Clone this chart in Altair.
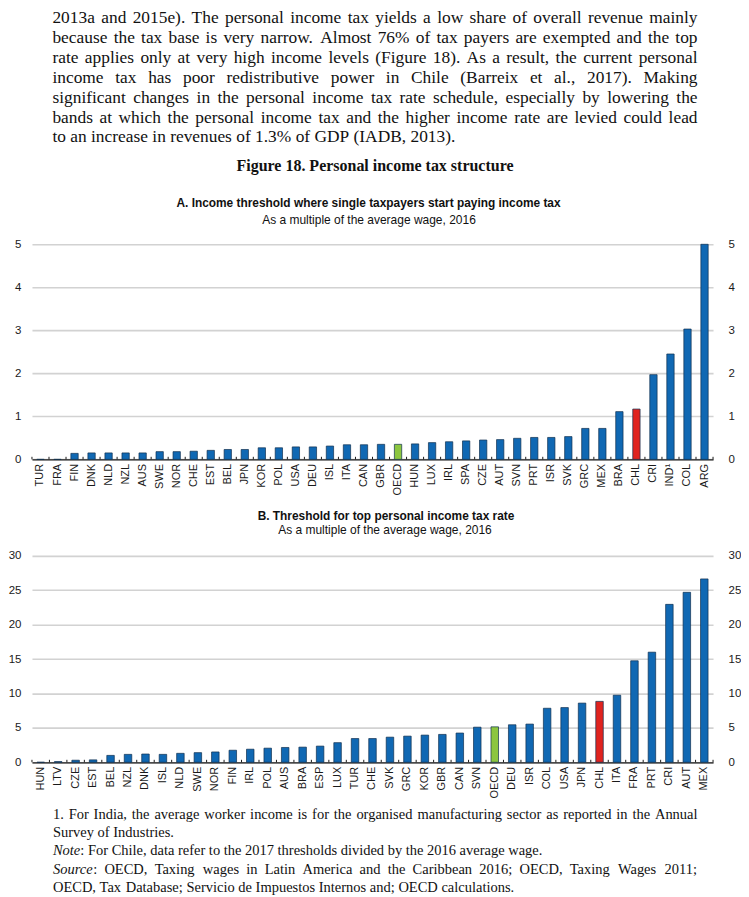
import altair as alt
import pandas as pd

# ---------------- text content ----------------
paragraph = [
    "2013a and 2015e). The personal income tax yields a low share of overall revenue mainly",
    "because the tax base is very narrow. Almost 76% of tax payers are exempted and the top",
    "rate applies only at very high income levels (Figure 18). As a result, the current personal",
    "income tax has poor redistributive power in Chile (Barreix et al., 2017). Making",
    "significant changes in the personal income tax rate schedule, especially by lowering the",
    "bands at which the personal income tax and the higher income rate are levied could lead",
    "to an increase in revenues of 1.3% of GDP (IADB, 2013).",
]
fig_title = "Figure 18. Personal income tax structure"
a_title = "A. Income threshold where single taxpayers start paying income tax"
a_sub = "As a multiple of the average wage, 2016"
b_title = "B. Threshold for top personal income tax rate"
b_sub = "As a multiple of the average wage, 2016"
foot_line1 = "1. For India, the average worker income is for the organised manufacturing sector as reported in the Annual"
foot_line2 = "Survey of Industries."
note_label = "Note"
note_text = ": For Chile, data refer to the 2017 thresholds divided by the 2016 average wage."
source_label = "Source"
source_text = ": OECD, Taxing wages in Latin America and the Caribbean 2016; OECD, Taxing Wages 2011;"
source_cont = "OECD, Tax Database; Servicio de Impuestos Internos and; OECD calculations."

# ---------------- data ----------------
a_countries = ["TUR", "FRA", "FIN", "DNK", "NLD", "NZL", "AUS", "SWE", "NOR", "CHE",
               "EST", "BEL", "JPN", "KOR", "POL", "USA", "DEU", "ISL", "ITA", "CAN",
               "GBR", "OECD", "HUN", "LUX", "IRL", "SPA", "CZE", "AUT", "SVN", "PRT",
               "ISR", "SVK", "GRC", "MEX", "BRA", "CHL", "CRI", "IND¹", "COL", "ARG"]
a_values = [0.0, 0.0, 0.14, 0.15, 0.15, 0.15, 0.15, 0.18, 0.18, 0.19,
            0.21, 0.23, 0.23, 0.27, 0.27, 0.29, 0.29, 0.31, 0.34, 0.34,
            0.35, 0.35, 0.36, 0.39, 0.41, 0.43, 0.45, 0.46, 0.49, 0.51,
            0.51, 0.53, 0.72, 0.72, 1.11, 1.17, 1.97, 2.45, 3.03, 5.0]
a_ticks = [0, 1, 2, 3, 4, 5]

b_countries = ["HUN", "LTV", "CZE", "EST", "BEL", "NZL", "DNK", "ISL", "NLD", "SWE",
               "NOR", "FIN", "IRL", "POL", "AUS", "BRA", "ESP", "LUX", "TUR", "CHE",
               "SVK", "GRC", "KOR", "GBR", "CAN", "SVN", "OECD", "DEU", "ISR", "COL",
               "USA", "JPN", "CHL", "ITA", "FRA", "PRT", "CRI", "AUT", "MEX"]
b_values = [0.0, 0.1, 0.3, 0.35, 1.0, 1.15, 1.2, 1.15, 1.3, 1.4,
            1.5, 1.75, 1.9, 2.05, 2.15, 2.2, 2.35, 2.85, 3.45, 3.45,
            3.65, 3.8, 3.95, 4.05, 4.25, 5.1, 5.15, 5.45, 5.55, 7.85,
            7.95, 8.6, 8.85, 9.75, 14.75, 16.0, 22.95, 24.7, 26.65]
b_ticks = [0, 5, 10, 15, 20, 25, 30]

# ---------------- style ----------------
SERIF = "Liberation Serif"
SANS = "Liberation Sans"
BLUE = "#1068b3"
RED = "#e0231f"
GREEN = "#8cc63f"
DARK = "#1a1a1a"
PLOT_W = 682
FULL_W = 700

# Times (Liberation Serif) advance widths, in em, used to justify the prose
TIMES = {' ': .25, '%': .833, '(': .333, ')': .333, ',': .25, '-': .333, '.': .25,
         ':': .278, ';': .278,
         'A': .722, 'B': .667, 'C': .667, 'D': .722, 'E': .611, 'F': .556, 'G': .722,
         'H': .722, 'I': .333, 'J': .389, 'K': .722, 'L': .611, 'M': .889, 'N': .722,
         'O': .722, 'P': .556, 'Q': .722, 'R': .667, 'S': .556, 'T': .611, 'U': .722,
         'V': .722, 'W': .944, 'X': .722, 'Y': .722, 'Z': .611,
         'a': .444, 'b': .5, 'c': .444, 'd': .5, 'e': .444, 'f': .333, 'g': .5, 'h': .5,
         'i': .278, 'j': .278, 'k': .5, 'l': .278, 'm': .778, 'n': .5, 'o': .5, 'p': .5,
         'q': .5, 'r': .333, 's': .389, 't': .278, 'u': .5, 'v': .5, 'w': .722, 'x': .5,
         'y': .5, 'z': .444}
ITALIC = {'N': .667, 'S': .5, 'o': .5, 't': .278, 'e': .444, 'u': .5, 'r': .389, 'c': .444}


def tw(s, fs, table=TIMES):
    return sum(table.get(ch, .5) for ch in s) * fs


def justify(line, fs, x0, x1, full, lead_w=0.0):
    words = line.split(" ")
    widths = [tw(w, fs) for w in words]
    if lead_w:
        widths[0] = lead_w
    gaps = len(words) - 1
    if full and gaps > 0:
        gap = (x1 - x0 - sum(widths)) / gaps
    else:
        gap = .25 * fs
    xs, x = [], x0
    for wdt in widths:
        xs.append(x)
        x += wdt + gap
    return words, xs


def text_layer(xs, ys, texts, font, size, weight="normal", style="normal", align="left"):
    df = pd.DataFrame({"x": xs, "y": ys, "t": texts})
    return alt.Chart(df).mark_text(
        font=font, fontSize=size, fontWeight=weight, fontStyle=style,
        align=align, baseline="middle", color="#111111"
    ).encode(
        x=alt.X("x:Q", scale=None),
        y=alt.Y("y:Q", scale=None),
        text="t:N",
    )


def panel(countries, values, ymax, yticks, height, tick_h):
    groups = ["OECD" if c == "OECD" else ("CHL" if c == "CHL" else "other") for c in countries]
    df = pd.DataFrame({"country": countries, "value": values, "group": groups})
    bar_scale = alt.Scale(domain=countries, paddingInner=0.57, paddingOuter=0.285)
    edge_scale = alt.Scale(domain=countries, paddingInner=0, paddingOuter=0)
    ysc = alt.Scale(domain=[0, ymax], nice=False)
    xaxis = alt.Axis(title=None, labelAngle=270, labelFont=SANS, labelFontSize=11,
                     labelColor=DARK, ticks=False, tickSize=0, domainColor=DARK,
                     domainWidth=1.3, labelPadding=4, grid=False)
    yleft = alt.Axis(orient="left", values=yticks, title=None, grid=True,
                     gridColor="#d2d2d2", gridWidth=1.6, domain=False, ticks=False,
                     tickSize=0, labelPadding=11, labelFont=SANS, labelFontSize=11.5,
                     labelColor=DARK)
    yright = alt.Axis(orient="right", values=yticks, title=None, grid=False, domain=False,
                      ticks=False, tickSize=0, labelPadding=15, labelFont=SANS,
                      labelFontSize=11.5, labelColor=DARK)
    base = alt.Chart(df)
    bars = base.mark_bar(stroke="#10304f", strokeWidth=0.7).encode(
        x=alt.X("country:N", sort=countries, scale=bar_scale, axis=xaxis),
        y=alt.Y("value:Q", scale=ysc, axis=yleft),
        color=alt.Color("group:N", scale=alt.Scale(domain=["other", "CHL", "OECD"],
                                                   range=[BLUE, RED, GREEN]), legend=None),
    )
    ghost = base.mark_bar(opacity=0).encode(
        x=alt.X("country:N", sort=countries, scale=bar_scale, axis=None),
        y=alt.Y("value:Q", scale=ysc, axis=yright),
    )
    edges = base.mark_rule(color=DARK, strokeWidth=1).encode(
        x=alt.X("country:N", sort=countries, scale=edge_scale, axis=None, bandPosition=0),
        y=alt.YDatum(0, axis=None),
        y2=alt.Y2Datum(tick_h),
    )
    last = base.transform_filter(alt.datum.country == countries[-1]).mark_rule(
        color=DARK, strokeWidth=1).encode(
        x=alt.X("country:N", sort=countries, scale=edge_scale, axis=None, bandPosition=1),
        y=alt.YDatum(0, axis=None),
        y2=alt.Y2Datum(tick_h),
    )
    return alt.layer(bars, ghost, edges, last).resolve_scale(
        x="independent", y="shared"
    ).resolve_axis(x="independent", y="independent").properties(width=PLOT_W, height=height)


# ---------------- header (prose + figure title + panel A title) ----------------
OX = 31.5          # page x of the plot's left edge
OY = 8.0           # page y of the header's top
P_FS = 17.4
px, py, pt = [], [], []
for i, line in enumerate(paragraph):
    words, xs = justify(line, P_FS, 52 - OX, 698 - OX, i < len(paragraph) - 1)
    y = 8.6 + 19.9 * i
    px += xs
    py += [y] * len(words)
    pt += words

T_BOLD = 11.9
T_REG = 12.0
header = alt.layer(
    text_layer(px, py, pt, SERIF, P_FS),
    text_layer([375 - OX], [165 - OY], [fig_title], SERIF, 16, weight="bold", align="center"),
    text_layer([368.5 - OX], [201.7 - OY], [a_title], SANS, T_BOLD, weight="bold", align="center"),
    text_layer([369 - OX], [218.3 - OY], [a_sub], SANS, T_REG, align="center"),
).properties(width=FULL_W, height=242.3 - OY)

panel_a = panel(a_countries, a_values, 5, a_ticks, 215.4, 0.06)

A_BOTTOM = 457.7
mid = alt.layer(
    text_layer([386 - OX], [513.3 - A_BOTTOM], [b_title], SANS, T_BOLD, weight="bold", align="center"),
    text_layer([385 - OX], [528.3 - A_BOTTOM], [b_sub], SANS, T_REG, align="center"),
).properties(width=FULL_W, height=553.3 - A_BOTTOM)

panel_b = panel(b_countries, b_values, 30, b_ticks, 206.7, 0.36)

# ---------------- footer ----------------
B_BOTTOM = 760.0
F_FS = 14.5
fy = [812 - B_BOTTOM + 18.5 * i for i in range(5)]
FX0, FX1 = 52.5 - OX, 698 - OX
reg_x, reg_y, reg_t = [], [], []
ita_x, ita_y, ita_t = [], [], []

w1, x1s = justify(foot_line1, F_FS, FX0, FX1, True)
reg_x += x1s; reg_y += [fy[0]] * len(w1); reg_t += w1
w2, x2s = justify(foot_line2, F_FS, FX0, FX1, False)
reg_x += x2s; reg_y += [fy[1]] * len(w2); reg_t += w2

# Note line (ragged): italic label then regular remainder
nl_w = tw(note_label, F_FS, ITALIC)
ita_x.append(FX0); ita_y.append(fy[2]); ita_t.append(note_label)
reg_x.append(FX0 + nl_w); reg_y.append(fy[2]); reg_t.append(note_text)

# Source line (justified): italic label + ":" as first word
sl_w = tw(source_label, F_FS, ITALIC)
src_line = source_label + source_text
ws, xs_ = justify(src_line, F_FS, FX0, FX1, True, lead_w=sl_w + tw(":", F_FS))
ita_x.append(FX0); ita_y.append(fy[3]); ita_t.append(source_label)
reg_x.append(FX0 + sl_w); reg_y.append(fy[3]); reg_t.append(":")
reg_x += xs_[1:]; reg_y += [fy[3]] * (len(ws) - 1); reg_t += ws[1:]

w5, x5s = justify(source_cont, F_FS, FX0, FX1, False)
reg_x += x5s; reg_y += [fy[4]] * len(w5); reg_t += w5

footer = alt.layer(
    text_layer(reg_x, reg_y, reg_t, SERIF, F_FS),
    text_layer(ita_x, ita_y, ita_t, SERIF, F_FS, style="italic"),
).properties(width=FULL_W, height=130)

chart = alt.vconcat(header, panel_a, mid, panel_b, footer, spacing=0, bounds="flush").properties(
    padding=0, background="white"
).configure_view(strokeWidth=0)

chart.save("out.html", embed_options={"renderer": "svg", "actions": False})
